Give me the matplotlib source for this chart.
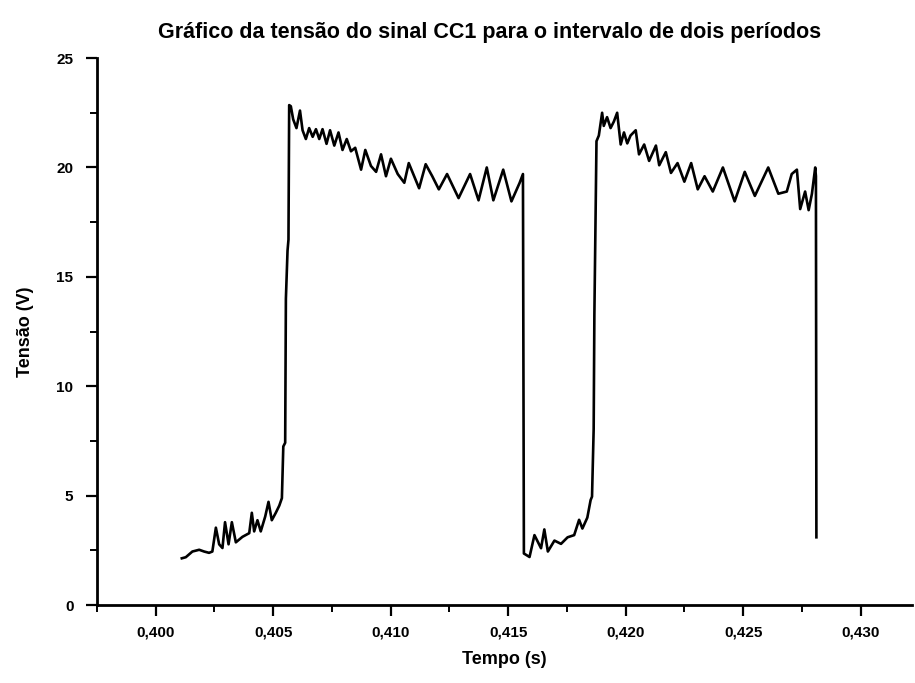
import numpy as np
import matplotlib.pyplot as plt
from matplotlib.ticker import MultipleLocator, FuncFormatter

# dados (tempo em s, tensão em V)
tempo = [
    0.40111, 0.40128, 0.40156, 0.40185, 0.40206, 0.40227, 0.40241, 0.40256,
    0.40270, 0.40284, 0.40295, 0.40310, 0.40324, 0.40341, 0.40369, 0.40398,
    0.40409, 0.40419, 0.40433, 0.40447, 0.40466, 0.40480, 0.40494, 0.40511,
    0.40526, 0.40537, 0.40543, 0.40551, 0.40554, 0.40561, 0.40565, 0.40568,
    0.40575, 0.40585, 0.40599, 0.40614, 0.40625, 0.40639, 0.40653, 0.40668,
    0.40682, 0.40696, 0.40710, 0.40727, 0.40742, 0.40760, 0.40778, 0.40795,
    0.40813, 0.40831, 0.40849, 0.40874, 0.40892, 0.40916, 0.40938, 0.40959,
    0.40980, 0.41001, 0.41030, 0.41058, 0.41077, 0.41121, 0.41149, 0.41177,
    0.41205, 0.41240, 0.41289, 0.41338, 0.41374, 0.41409, 0.41437, 0.41479,
    0.41514, 0.41549, 0.41563, 0.41565, 0.41567, 0.41591, 0.41612, 0.41640,
    0.41654, 0.41669, 0.41697, 0.41725, 0.41753, 0.41781, 0.41802, 0.41816,
    0.41837, 0.41851, 0.41857, 0.41864, 0.41867, 0.41876, 0.41886, 0.41900,
    0.41907, 0.41921, 0.41936, 0.41950, 0.41964, 0.41979, 0.41993, 0.42007,
    0.42021, 0.42043, 0.42057, 0.42079, 0.42100, 0.42129, 0.42143, 0.42171,
    0.42193, 0.42221, 0.42250, 0.42279, 0.42307, 0.42336, 0.42371, 0.42414,
    0.42464, 0.42507, 0.42550, 0.42607, 0.42650, 0.42686, 0.42707, 0.42729,
    0.42743, 0.42764, 0.42779, 0.42793, 0.42807, 0.42810, 0.42811, 0.42812,
]
tensao = [
    2.14, 2.19, 2.45, 2.53, 2.45, 2.39, 2.45, 3.54,
    2.78, 2.61, 3.79, 2.78, 3.79, 2.87, 3.12, 3.29,
    4.22, 3.37, 3.88, 3.37, 4.05, 4.72, 3.88, 4.22,
    4.55, 4.89, 7.25, 7.42, 14.0, 16.2, 16.7, 22.85,
    22.8, 22.2, 21.8, 22.6, 21.7, 21.3, 21.8, 21.4,
    21.75, 21.3, 21.75, 21.08, 21.7, 21.0, 21.6, 20.8,
    21.3, 20.74, 20.9, 19.9, 20.8, 20.07, 19.8, 20.6,
    19.6, 20.4, 19.7, 19.3, 20.2, 19.05, 20.15, 19.6,
    19.0, 19.7, 18.6, 19.7, 18.5, 20.0, 18.5, 19.9,
    18.45, 19.3, 19.7, 11.0, 2.36, 2.2, 3.2, 2.6,
    3.46, 2.45, 2.95, 2.8, 3.1, 3.2, 3.9, 3.5,
    4.0, 4.8, 4.96, 8.05, 13.25, 21.2, 21.46, 22.5,
    21.9, 22.3, 21.8, 22.1, 22.5, 21.05, 21.6, 21.1,
    21.46, 21.7, 20.6, 21.05, 20.3, 21.0, 20.1, 20.7,
    19.75, 20.2, 19.35, 20.2, 19.0, 19.6, 18.9, 20.0,
    18.45, 19.8, 18.7, 20.0, 18.8, 18.9, 19.7, 19.9,
    18.1, 18.9, 18.05, 18.8, 20.0, 19.6, 11.2, 3.1,
]

titulo = 'Gráfico da tensão do sinal CC1 para o intervalo de dois períodos'

plt.rcParams['font.family'] = ['Liberation Sans', 'DejaVu Sans']
plt.rcParams['font.weight'] = 'bold'

fig = plt.figure(figsize=(9.15, 6.83), dpi=100)
ax = fig.add_axes([0.106, 0.114, 0.891, 0.801])

ax.plot(tempo, tensao, color='black', linewidth=1.9)

ax.set_xlim(0.3975, 0.4322)
ax.set_ylim(0, 25)

ax.xaxis.set_major_locator(MultipleLocator(0.005))
ax.xaxis.set_minor_locator(MultipleLocator(0.0025))
ax.yaxis.set_major_locator(MultipleLocator(5))
ax.yaxis.set_minor_locator(MultipleLocator(2.5))
ax.xaxis.set_major_formatter(FuncFormatter(lambda v, p: f'{v:.3f}'.replace('.', ',')))
ax.yaxis.set_major_formatter(FuncFormatter(lambda v, p: f'{v:.0f}'))

ax.tick_params(axis='both', which='major', length=8, width=1.6, labelsize=11)
ax.tick_params(axis='x', which='major', pad=7)
ax.tick_params(axis='y', which='major', pad=9)
ax.tick_params(axis='both', which='minor', length=5, width=1.4)

for s in ['top', 'right']:
    ax.spines[s].set_visible(False)
for s in ['left', 'bottom']:
    ax.spines[s].set_linewidth(2)

ax.set_xlabel('Tempo (s)', fontsize=13, fontweight='bold', labelpad=8)
ax.set_ylabel('Tensão (V)', fontsize=13, fontweight='bold', labelpad=16)
fig.text(0.535, 0.953, titulo, ha='center', va='center', fontsize=15.5, fontweight='bold')

plt.savefig('out.png', dpi=100)
plt.close()
